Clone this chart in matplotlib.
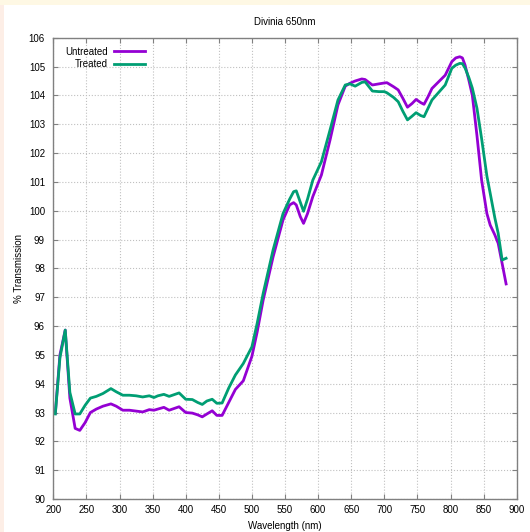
import numpy as np
import matplotlib
matplotlib.use('Agg')
import matplotlib.pyplot as plt
from matplotlib.patches import Rectangle

plt.rcParams['font.family'] = ['Liberation Sans', 'DejaVu Sans']
plt.rcParams['font.size'] = 7

# wavelengths (nm)
wavelength = [203, 210, 218, 225, 233, 240, 248, 256, 265, 275, 287, 295, 305, 315,
              325, 335, 345, 352, 358, 367, 375, 390, 400, 410, 418, 425, 432, 440,
              447, 455, 465, 475, 487, 500, 508, 517, 532, 547, 557, 563, 567, 573,
              578, 584, 592, 605, 618, 630, 641, 648, 656, 666, 671, 682, 692, 700,
              704, 714, 721, 728, 735, 742, 748, 755, 760, 766, 772, 782, 792, 802,
              808, 814, 818, 822, 828, 833, 840, 847, 855, 860, 867, 872, 878, 884]

untreated = [92.97, 95.0, 95.86, 93.5, 92.45, 92.38, 92.65, 93.0, 93.12, 93.22, 93.3, 93.22,
             93.08, 93.08, 93.05, 93.02, 93.1, 93.08, 93.12, 93.18, 93.08, 93.2, 93.0, 92.98,
             92.92, 92.85, 92.95, 93.06, 92.9, 92.9, 93.35, 93.8, 94.1, 94.95, 95.8, 96.9,
             98.4, 99.68, 100.2, 100.28, 100.2, 99.8, 99.56, 99.9, 100.49, 101.24, 102.45,
             103.67, 104.32, 104.42, 104.5, 104.57, 104.55, 104.36, 104.4, 104.43, 104.44,
             104.3, 104.19, 103.9, 103.59, 103.72, 103.86, 103.75, 103.69, 103.95, 104.24,
             104.47, 104.7, 105.17, 105.3, 105.34, 105.3, 105.05, 104.5, 104.0, 102.6,
             101.06, 99.9, 99.5, 99.16, 98.87, 98.17, 97.46]

treated = [92.95, 94.9, 95.86, 93.7, 92.95, 92.95, 93.25, 93.5, 93.56, 93.66, 93.83, 93.72,
           93.6, 93.6, 93.58, 93.54, 93.58, 93.52, 93.58, 93.63, 93.56, 93.68, 93.46, 93.45,
           93.35, 93.28, 93.4, 93.46, 93.32, 93.33, 93.85, 94.3, 94.7, 95.28, 96.1, 97.13,
           98.64, 99.9, 100.4, 100.66, 100.69, 100.3, 99.98, 100.4, 101.06, 101.7, 102.8,
           103.84, 104.36, 104.4, 104.32, 104.45, 104.47, 104.15, 104.13, 104.13, 104.09,
           103.93, 103.78, 103.45, 103.15, 103.28, 103.4, 103.3, 103.26, 103.55, 103.84,
           104.1, 104.36, 104.94, 105.05, 105.11, 105.1, 104.95, 104.6, 104.25, 103.55,
           102.5, 101.2, 100.6, 99.75, 99.22, 98.29, 98.35]

fig = plt.figure(figsize=(5.3, 5.32), dpi=100, facecolor='#fef8e4')
# white page with pale edge bands
fig.patches.append(Rectangle((4/530, 0), 1, 1 - 5/532, transform=fig.transFigure,
                             facecolor='white', edgecolor='none', zorder=-1))
fig.patches.append(Rectangle((0, 0), 4/530, 1 - 5/532, transform=fig.transFigure,
                             facecolor='#fdeee6', edgecolor='none', zorder=-1))

ax = fig.add_axes([0.1006, 0.062, 0.8743, 0.8671])
ax.plot(wavelength, untreated, color='#9400d3', lw=2, label='Untreated')
ax.plot(wavelength, treated, color='#009e73', lw=2, label='Treated')

ax.set_xlim(200, 900)
ax.set_ylim(90, 106)
ax.set_xticks(np.arange(200, 901, 50))
ax.set_yticks(np.arange(90, 107, 1))
ax.tick_params(direction='in', length=3.5, width=0.8, color='#808080',
               top=True, right=True, labelsize=7)
ax.tick_params(axis='y', pad=6)
ax.tick_params(axis='x', pad=4.5)
for s in ax.spines.values():
    s.set_color('#808080')
    s.set_linewidth(1)
ax.grid(True, linestyle=':', color='#c0c0c0', linewidth=0.8)

ax.set_title('Divinia 650nm', fontsize=7, pad=9)
ax.set_xlabel('Wavelength (nm)', labelpad=4)
ax.set_ylabel('% Transmission', labelpad=3.5)

ax.legend(loc='upper right', bbox_to_anchor=(0.213, 0.995), frameon=False,
          markerfirst=False, handlelength=3.2, handletextpad=0.6,
          labelspacing=0.25, borderaxespad=0.3, fontsize=7)

plt.savefig('out.png', dpi=100, facecolor=fig.get_facecolor())
